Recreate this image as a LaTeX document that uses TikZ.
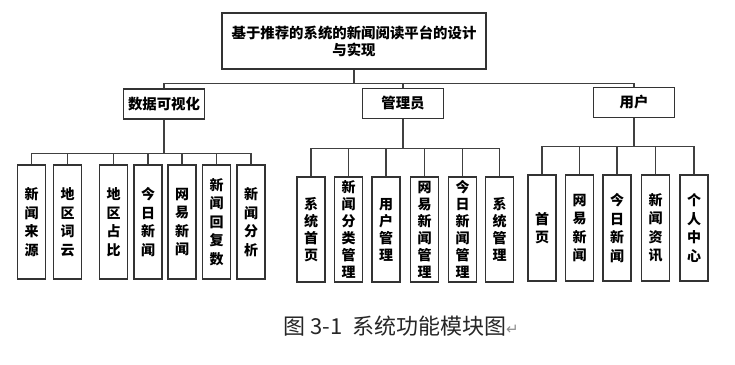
\documentclass[tikz,border=0pt]{standalone}
\usepackage{fontspec}
\setmainfont{Noto Sans CJK SC}
\newfontfamily\symfont{DejaVu Sans}
\tikzset{
    modbox/.style={draw=black!80,line width=1.1pt,fill=white,align=center,inner sep=2pt,font=\bfseries\fontsize{14.4}{17}\selectfont},
    leafbox/.style={draw=black!80,line width=1.1pt,fill=white,align=center,inner sep=0pt,minimum width=28pt,font=\bfseries\fontsize{14}{18.5}\selectfont},
    link/.style={draw=black!75,line width=1.1pt}
}

\begin{document}
\begin{tikzpicture}[x=1pt,y=-1pt]
\useasboundingbox (0,0) rectangle (735,364);

% Top module
\node[modbox,minimum width=264pt,minimum height=56pt] at (354,41) (root) {基于推荐的系统的新闻阅读平台的设计\\与实现};

% Second level modules
\node[modbox,minimum width=81pt,minimum height=30pt] at (164,104) (vis) {数据可视化};
\node[modbox,minimum width=81pt,minimum height=30pt] at (403,103.5) (admin) {管理员};
\node[modbox,minimum width=81pt,minimum height=30pt] at (634,102.5) (user) {用户};

\draw[link] (root.south) -- ++(0,14) -| (vis.north);
\draw[link] (root.south) -- ++(0,14) -| (admin.north);
\draw[link] (root.south) -- ++(0,14) -| (user.north);

% Leaves of data visualisation
\foreach \x/\t [count=\i] in {31.5/新\\闻\\来\\源,67.5/地\\区\\词\\云,113.5/地\\区\\占\\比,148/今\\日\\新\\闻,182/网\\易\\新\\闻,216.5/新\\闻\\回\\复\\数,251/新\\闻\\分\\析}{
  \node[leafbox,minimum height=114pt] at (\x,222) (v\i) {\t};
  \draw[link] (vis.south) -- ++(0,34) -| (v\i.north);
}

% Leaves of administrator
\foreach \x/\t [count=\i] in {311/系\\统\\首\\页,348.5/新\\闻\\分\\类\\管\\理,386/用\\户\\管\\理,424.5/网\\易\\新\\闻\\管\\理,462.5/今\\日\\新\\闻\\管\\理,499.5/系\\统\\管\\理}{
  \node[leafbox,minimum height=105pt,font=\bfseries\fontsize{14}{17}\selectfont] at (\x,229.5) (a\i) {\t};
  \draw[link] (admin.south) -- ++(0,29) -| (a\i.north);
}

% Leaves of user
\foreach \x/\t [count=\i] in {542/首\\页,579.5/网\\易\\新\\闻,617/今\\日\\新\\闻,655.5/新\\闻\\资\\讯,694/个\\人\\中\\心}{
  \node[leafbox,minimum height=106pt] at (\x,228) (u\i) {\t};
  \draw[link] (user.south) -- ++(0,28) -| (u\i.north);
}

% Caption
\node[font=\fontsize{22}{26}\selectfont,text=black!85] at (401,326) (cap) {图 3-1\ \ 系统功能模块图{\symfont\fontsize{15}{17}\selectfont\color{black!45}↵}};

\end{tikzpicture}
\end{document}
